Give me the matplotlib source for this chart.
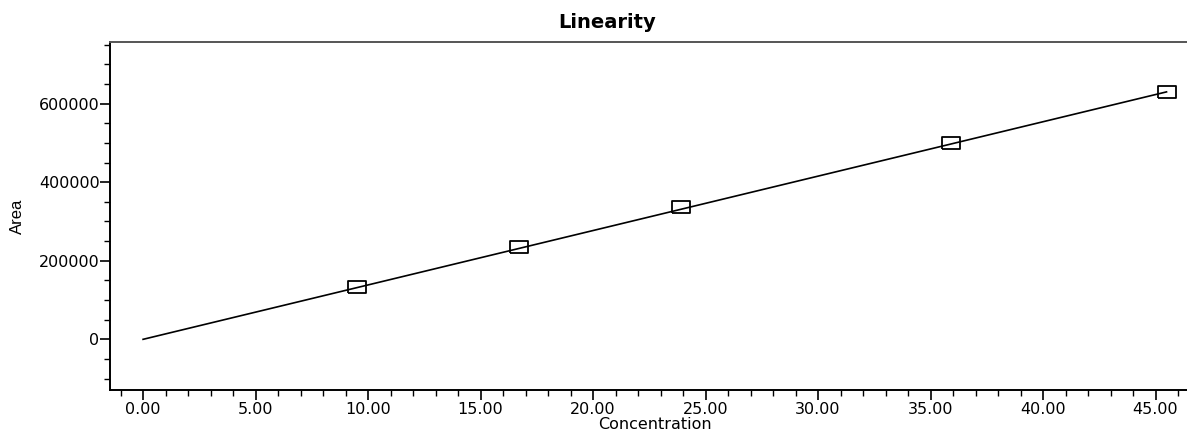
import matplotlib
matplotlib.use("Agg")
import matplotlib.pyplot as plt
from matplotlib.ticker import MultipleLocator

plt.rcParams['font.family'] = ['DejaVu Sans']

# calibration standards
conc = [9.52, 16.72, 23.92, 35.93, 45.49]
area = [134000, 235000, 337000, 499000, 630000]

# fitted line (through origin)
fit_x = [0.0, 45.49]
fit_y = [0.0, 630000]

x_ticks = [0, 5, 10, 15, 20, 25, 30, 35, 40, 45]
y_ticks = [0, 200000, 400000, 600000]

fig = plt.figure(figsize=(11.87, 4.33), dpi=100)
ax = fig.add_axes([110/1187, 1 - 390/433, 1 - 110/1187, (390 - 42)/433])

ax.plot(fit_x, fit_y, color='black', lw=1.2, zorder=2)
rect = [(-1.4, -1), (1.4, -1), (1.4, 1), (-1.4, 1), (-1.4, -1)]
ax.plot(conc, area, linestyle='none', marker=rect, markersize=13,
        markerfacecolor='none', markeredgecolor='black', markeredgewidth=1.3, zorder=3)

ax.set_xlim(-1.47, 46.4)
ax.set_ylim(-129000, 757000)
ax.set_xticks(x_ticks)
ax.set_xticklabels([f"{v:.2f}" for v in x_ticks])
ax.set_yticks(y_ticks)
ax.set_yticklabels([str(v) for v in y_ticks])
ax.xaxis.set_minor_locator(MultipleLocator(1))
ax.yaxis.set_minor_locator(MultipleLocator(50000))

ax.tick_params(which='major', direction='out', length=7, width=1.2, labelsize=11.5, pad=0.5)
ax.tick_params(which='minor', direction='out', length=4, width=1.0)
ax.tick_params(axis='x', which='major', pad=2)

for side in ['left', 'bottom', 'top']:
    ax.spines[side].set_linewidth(1.4)
ax.spines['top'].set_color('#555555')
ax.spines['right'].set_visible(False)

fig.text(655/1187, 1 - 432/433, 'Concentration', fontsize=11.5, ha='center', va='bottom')
fig.text(17/1187, 1 - 216/433, 'Area', rotation=90, fontsize=12,
         ha='center', va='center', family=['Liberation Sans', 'DejaVu Sans'])
fig.text(607/1187, 1 - 22/433, 'Linearity', fontsize=14, fontweight='bold',
         ha='center', va='center')

fig.savefig('out.png', dpi=100)
